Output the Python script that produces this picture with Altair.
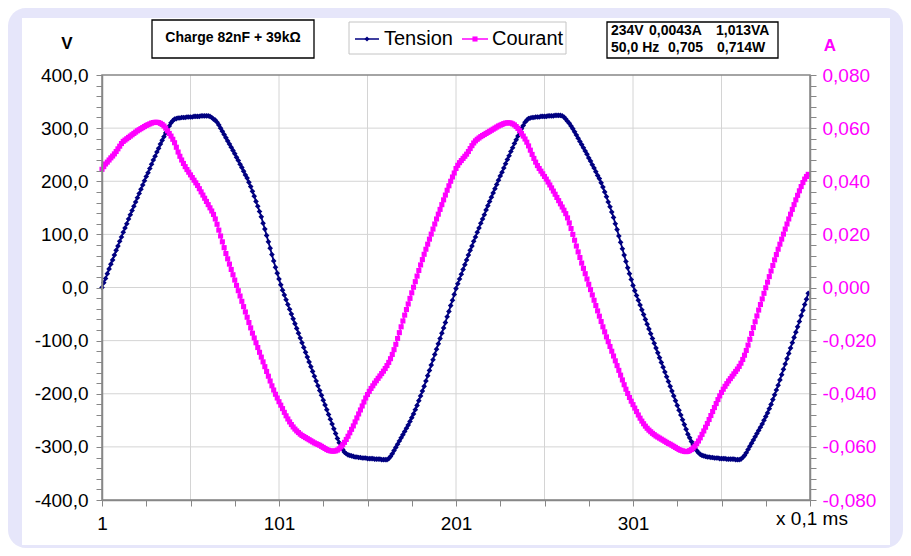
import altair as alt
import pandas as pd

FONT = "Liberation Sans"
NAVY = "#000080"
MAGENTA = "#FF00FF"
LAVENDER = "#E6E6FA"
GRID = "#D4D4D4"
AXIS_GRAY = "#878787"

# ---------------- data ----------------
echantillons = list(range(1, 401))

tension = [
    0, 9, 17, 26, 35, 44, 52, 61, 70, 78,
    87, 95, 104, 112, 120, 129, 137, 145, 153, 161,
    169, 177, 185, 193, 201, 209, 216, 224, 232, 240,
    247, 255, 262, 270, 277, 284, 291, 298, 304, 310,
    314, 317, 318, 319, 319, 320, 320, 320, 321, 321,
    321, 321, 322, 322, 322, 322, 323, 323, 323, 323,
    323, 322, 320, 317, 315, 311, 306, 300, 294, 288,
    282, 276, 270, 264, 258, 252, 245, 239, 232, 226,
    219, 212, 206, 198, 190, 181, 172, 162, 153, 143,
    133, 121, 110, 98, 86, 74, 62, 50, 38, 27,
    16, 5, -5, -14, -23, -32, -41, -50, -59, -68,
    -77, -86, -95, -104, -113, -122, -131, -140, -149, -158,
    -167, -176, -185, -194, -203, -212, -221, -230, -239, -248,
    -257, -266, -275, -284, -292, -299, -305, -310, -313, -315,
    -316, -317, -318, -319, -319, -320, -320, -321, -321, -321,
    -322, -322, -322, -322, -323, -323, -323, -323, -324, -324,
    -324, -324, -322, -318, -313, -307, -301, -295, -289, -283,
    -277, -271, -265, -259, -252, -245, -238, -230, -222, -213,
    -204, -195, -186, -176, -166, -156, -146, -136, -126, -116,
    -106, -96, -86, -76, -66, -55, -45, -34, -24, -13,
    -2, 7, 16, 25, 34, 43, 52, 61, 70, 78,
    87, 95, 104, 112, 121, 129, 137, 146, 154, 162,
    170, 178, 186, 194, 202, 210, 217, 225, 233, 241,
    248, 256, 263, 271, 278, 285, 292, 299, 305, 311,
    315, 318, 319, 320, 320, 321, 321, 321, 322, 322,
    322, 322, 323, 323, 323, 323, 324, 324, 324, 324,
    323, 321, 317, 313, 309, 304, 299, 293, 287, 281,
    275, 269, 263, 257, 251, 244, 238, 231, 225, 218,
    211, 205, 197, 189, 180, 171, 161, 152, 142, 132,
    120, 109, 97, 85, 73, 61, 49, 37, 26, 15,
    4, -6, -15, -24, -33, -42, -51, -60, -69, -78,
    -87, -96, -105, -114, -123, -132, -141, -150, -159, -168,
    -177, -186, -195, -204, -213, -222, -231, -240, -249, -258,
    -267, -276, -283, -290, -296, -302, -307, -311, -314, -316,
    -317, -318, -319, -319, -320, -320, -321, -321, -321, -322,
    -322, -322, -322, -323, -323, -323, -323, -323, -324, -324,
    -324, -323, -320, -316, -311, -305, -299, -293, -287, -281,
    -275, -269, -263, -257, -250, -243, -236, -228, -220, -211,
    -202, -193, -184, -174, -164, -154, -144, -134, -124, -114,
    -104, -94, -84, -74, -64, -53, -43, -32, -22, -11,
]

courant = [
    0.0445, 0.0455, 0.0465, 0.0472, 0.0480, 0.0488, 0.0495, 0.0503, 0.0512, 0.0522,
    0.0532, 0.0542, 0.0550, 0.0555, 0.0560, 0.0565, 0.0570, 0.0575, 0.0580, 0.0585,
    0.0590, 0.0594, 0.0598, 0.0602, 0.0606, 0.0610, 0.0613, 0.0616, 0.0619, 0.0621,
    0.0622, 0.0622, 0.0621, 0.0618, 0.0614, 0.0608, 0.0600, 0.0590, 0.0580, 0.0570,
    0.0558, 0.0545, 0.0528, 0.0510, 0.0494, 0.0480, 0.0467, 0.0455, 0.0444, 0.0434,
    0.0424, 0.0414, 0.0404, 0.0394, 0.0384, 0.0372, 0.0360, 0.0348, 0.0336, 0.0324,
    0.0312, 0.0300, 0.0288, 0.0275, 0.0258, 0.0238, 0.0216, 0.0194, 0.0172, 0.0150,
    0.0128, 0.0108, 0.0088, 0.0068, 0.0048, 0.0028, 0.0008, -0.0012, -0.0032, -0.0052,
    -0.0072, -0.0092, -0.0112, -0.0132, -0.0152, -0.0172, -0.0190, -0.0208, -0.0226, -0.0244,
    -0.0262, -0.0280, -0.0298, -0.0316, -0.0334, -0.0352, -0.0370, -0.0386, -0.0402, -0.0416,
    -0.0430, -0.0443, -0.0456, -0.0470, -0.0483, -0.0495, -0.0506, -0.0516, -0.0525, -0.0533,
    -0.0540, -0.0546, -0.0552, -0.0557, -0.0561, -0.0565, -0.0569, -0.0573, -0.0577, -0.0581,
    -0.0585, -0.0588, -0.0591, -0.0594, -0.0598, -0.0602, -0.0606, -0.0610, -0.0613, -0.0615,
    -0.0616, -0.0616, -0.0615, -0.0612, -0.0607, -0.0600, -0.0592, -0.0583, -0.0572, -0.0560,
    -0.0547, -0.0534, -0.0521, -0.0506, -0.0491, -0.0476, -0.0461, -0.0446, -0.0431, -0.0416,
    -0.0403, -0.0391, -0.0380, -0.0370, -0.0360, -0.0351, -0.0342, -0.0333, -0.0324, -0.0315,
    -0.0305, -0.0294, -0.0282, -0.0268, -0.0252, -0.0234, -0.0214, -0.0192, -0.0170, -0.0148,
    -0.0126, -0.0104, -0.0083, -0.0062, -0.0041, -0.0020, 0.0001, 0.0022, 0.0043, 0.0064,
    0.0085, 0.0105, 0.0125, 0.0144, 0.0163, 0.0182, 0.0201, 0.0220, 0.0239, 0.0258,
    0.0276, 0.0294, 0.0312, 0.0330, 0.0348, 0.0366, 0.0383, 0.0400, 0.0416, 0.0431,
    0.0448, 0.0460, 0.0470, 0.0478, 0.0486, 0.0494, 0.0502, 0.0512, 0.0523, 0.0534,
    0.0544, 0.0552, 0.0558, 0.0563, 0.0568, 0.0572, 0.0576, 0.0580, 0.0584, 0.0588,
    0.0592, 0.0596, 0.0600, 0.0604, 0.0608, 0.0611, 0.0614, 0.0617, 0.0619, 0.0620,
    0.0620, 0.0619, 0.0616, 0.0612, 0.0606, 0.0599, 0.0590, 0.0580, 0.0570, 0.0559,
    0.0547, 0.0533, 0.0517, 0.0501, 0.0486, 0.0472, 0.0459, 0.0448, 0.0438, 0.0428,
    0.0418, 0.0408, 0.0397, 0.0386, 0.0375, 0.0363, 0.0351, 0.0339, 0.0327, 0.0315,
    0.0303, 0.0291, 0.0278, 0.0262, 0.0243, 0.0222, 0.0200, 0.0178, 0.0156, 0.0134,
    0.0113, 0.0092, 0.0072, 0.0052, 0.0032, 0.0012, -0.0008, -0.0028, -0.0048, -0.0068,
    -0.0088, -0.0108, -0.0128, -0.0148, -0.0167, -0.0186, -0.0204, -0.0222, -0.0240, -0.0258,
    -0.0276, -0.0294, -0.0312, -0.0330, -0.0348, -0.0366, -0.0383, -0.0399, -0.0414, -0.0428,
    -0.0441, -0.0454, -0.0467, -0.0480, -0.0492, -0.0503, -0.0513, -0.0522, -0.0530, -0.0537,
    -0.0543, -0.0549, -0.0554, -0.0559, -0.0563, -0.0567, -0.0571, -0.0575, -0.0579, -0.0583,
    -0.0587, -0.0590, -0.0594, -0.0598, -0.0602, -0.0606, -0.0610, -0.0613, -0.0615, -0.0617,
    -0.0618, -0.0617, -0.0614, -0.0610, -0.0604, -0.0597, -0.0588, -0.0578, -0.0566, -0.0553,
    -0.0540, -0.0526, -0.0512, -0.0497, -0.0482, -0.0467, -0.0452, -0.0437, -0.0422, -0.0408,
    -0.0395, -0.0383, -0.0372, -0.0362, -0.0352, -0.0343, -0.0334, -0.0325, -0.0316, -0.0307,
    -0.0297, -0.0285, -0.0271, -0.0255, -0.0237, -0.0217, -0.0195, -0.0173, -0.0151, -0.0129,
    -0.0107, -0.0085, -0.0064, -0.0043, -0.0022, -0.0001, 0.0020, 0.0041, 0.0062, 0.0083,
    0.0104, 0.0124, 0.0144, 0.0163, 0.0182, 0.0201, 0.0220, 0.0239, 0.0258, 0.0276,
    0.0294, 0.0312, 0.0330, 0.0347, 0.0364, 0.0380, 0.0395, 0.0408, 0.0418, 0.0426,
]

x_ticks = [1, 26, 51, 76, 101, 126, 151, 176, 201, 226, 251, 276, 301, 326, 351, 376, 401]
x_grid = [51, 101, 151, 201, 251, 301, 351]
v_ticks = list(range(-400, 401, 20))
v_grid = [-300, -200, -100, 0, 100, 200, 300]
a_ticks = [round(k * 0.004, 3) for k in range(-20, 21)]

assert len(tension) == 400 and len(courant) == 400

# ---------------- layout helpers ----------------
W, H = 708, 425          # plot area
PX0, PY0 = 102, 75       # page position of the plot's top-left corner


def px(x):
    return x - PX0


def py(y):
    return y - PY0


df = pd.DataFrame({"echantillon": echantillons, "tension": tension, "courant": courant})
one = pd.DataFrame({"k": [0]})

x_scale = alt.Scale(domain=[1, 401], nice=False, zero=False)
v_scale = alt.Scale(domain=[-400, 400], nice=False, zero=False)
a_scale = alt.Scale(domain=[-0.08, 0.08], nice=False, zero=False)

x_axis = alt.Axis(
    values=x_ticks,
    labelExpr="(datum.value - 1) % 100 === 0 && datum.value < 400 ? '' + datum.value : ''",
    grid=False, tickSize=6, tickColor=AXIS_GRAY, tickWidth=1,
    domainColor=AXIS_GRAY, domainWidth=1.5,
    labelFont=FONT, labelFontSize=19, labelColor="black", labelPadding=8,
    labelFlush=False, labelOverlap=False, title=None, zindex=1,
)
v_axis = alt.Axis(
    orient="left", values=v_ticks,
    labelExpr="datum.value % 100 === 0 ? (datum.value < 0 ? '-' : '') + replace(format(abs(datum.value), '.1f'), '.', ',') : ''",
    grid=False, tickSize=6, tickColor=AXIS_GRAY, tickWidth=1,
    domainColor=AXIS_GRAY, domainWidth=1.5,
    labelFont=FONT, labelFontSize=19, labelColor="black", labelPadding=8,
    labelFlush=False, labelOverlap=False, title=None, zindex=1,
)
a_axis = alt.Axis(
    orient="right", values=a_ticks,
    labelExpr="abs(round(datum.value * 1000)) % 20 === 0 ? (datum.value < -0.0001 ? '-' : '') + replace(format(abs(datum.value), '.3f'), '.', ',') : ''",
    grid=False, tickSize=6, tickColor=AXIS_GRAY, tickWidth=1,
    domainColor=AXIS_GRAY, domainWidth=1.5,
    labelFont=FONT, labelFontSize=19, labelColor=MAGENTA, labelPadding=6,
    labelFlush=False, labelOverlap=False, title=None, zindex=1,
)

# ---------------- background ----------------
bg = alt.Chart(one).mark_rect(fill=LAVENDER, cornerRadius=18).encode(
    x=alt.value(px(8)), x2=alt.value(px(903)), y=alt.value(py(8)), y2=alt.value(py(548))
)
panel = alt.Chart(one).mark_rect(fill="white").encode(
    x=alt.value(px(22)), x2=alt.value(px(890)), y=alt.value(py(18)), y2=alt.value(py(545))
)

grid_x = alt.Chart(pd.DataFrame({"gx": x_grid})).mark_rule(color=GRID, strokeWidth=1).encode(
    x=alt.X("gx:Q", scale=x_scale, axis=x_axis)
)
grid_y = alt.Chart(pd.DataFrame({"gy": v_grid})).mark_rule(color=GRID, strokeWidth=1).encode(
    y=alt.Y("gy:Q", scale=v_scale, axis=None)
)

# ---------------- series ----------------
tension_layer = alt.Chart(df).mark_line(
    color=NAVY, strokeWidth=1.8,
    point=alt.OverlayMarkDef(shape="diamond", filled=True, size=32, color=NAVY),
).encode(
    x=alt.X("echantillon:Q", scale=x_scale, axis=x_axis),
    y=alt.Y("tension:Q", scale=v_scale, axis=v_axis),
)

courant_layer = alt.Chart(df).mark_line(
    color=MAGENTA, strokeWidth=1.5,
    point=alt.OverlayMarkDef(shape="square", filled=True, size=26, color=MAGENTA),
).encode(
    x=alt.X("echantillon:Q", scale=x_scale, axis=x_axis),
    y=alt.Y("courant:Q", scale=a_scale, axis=a_axis),
)

border = alt.Chart(one).mark_rect(fill="white", fillOpacity=0, stroke=AXIS_GRAY, strokeWidth=1.5).encode(
    x=alt.value(0), x2=alt.value(W), y=alt.value(0), y2=alt.value(H)
)


# ---------------- annotations ----------------
def box(x0, y0, x1, y1, stroke, sw):
    return alt.Chart(one).mark_rect(fill="white", stroke=stroke, strokeWidth=sw).encode(
        x=alt.value(px(x0)), x2=alt.value(px(x1)), y=alt.value(py(y0)), y2=alt.value(py(y1))
    )


def label(txt, x, y, size, color="black", weight="normal", align="left"):
    return alt.Chart(one).mark_text(
        text=txt, font=FONT, fontSize=size, fontWeight=weight, color=color,
        align=align, baseline="middle",
    ).encode(x=alt.value(px(x)), y=alt.value(py(y)))


def seg(x0, x1, y, color):
    return alt.Chart(one).mark_rule(color=color, strokeWidth=1.5).encode(
        x=alt.value(px(x0)), x2=alt.value(px(x1)), y=alt.value(py(y))
    )


def sym(x, y, shape, size, color):
    return alt.Chart(one).mark_point(shape=shape, filled=True, size=size, color=color, opacity=1).encode(
        x=alt.value(px(x)), y=alt.value(py(y))
    )


annotations = [
    label("V", 67, 44, 17, weight="bold", align="center"),
    label("A", 830, 46, 17, color=MAGENTA, weight="bold", align="center"),
    box(152, 20, 314, 58, "black", 1.3),
    label("Charge 82nF + 39k\u03a9", 233, 38, 14, weight="bold", align="center"),
    box(349, 22, 566, 54, "#C4C4C4", 1),
    seg(355, 379, 39, NAVY),
    sym(367, 39, "diamond", 26, NAVY),
    label("Tension", 384, 39, 20),
    seg(462, 488, 39, MAGENTA),
    sym(475, 39, "square", 26, MAGENTA),
    label("Courant", 492, 39, 20),
    box(607, 22, 778, 58, "black", 1.3),
    label("234V", 611, 31, 14, weight="bold"),
    label("0,0043A", 649, 31, 14, weight="bold"),
    label("1,013VA", 716, 31, 14, weight="bold"),
    label("50,0 Hz", 611, 48, 14, weight="bold"),
    label("0,705", 668, 48, 14, weight="bold"),
    label("0,714W", 717, 48, 14, weight="bold"),
    label("x 0,1 ms", 812, 519, 19, align="center"),
]

chart = alt.layer(
    bg, panel, grid_x, grid_y, tension_layer, courant_layer, border, *annotations
).resolve_scale(
    y="independent"
).properties(
    width=W, height=H,
    padding={"left": 94, "top": 67, "right": 93, "bottom": 48},
    autosize=alt.AutoSizeParams(type="none"),
).configure_view(
    strokeWidth=0
)

chart.save("out.html", embed_options={"renderer": "svg", "actions": False})
